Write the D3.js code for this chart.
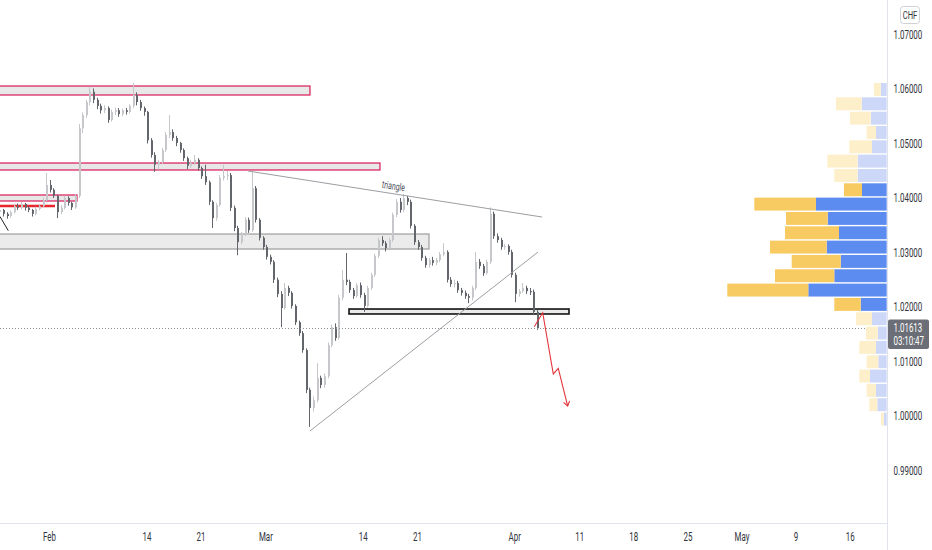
<!DOCTYPE html>
<html><head><meta charset="utf-8">
<script src="https://cdn.jsdelivr.net/npm/d3@7"></script>
<style>
html,body{margin:0;padding:0;background:#fff;}
svg{display:block;}
text{font-family:Roboto,"Liberation Sans",sans-serif;}
</style></head><body>
<svg id="c" width="932" height="550"></svg>
<script>
// ---------------- DATA ----------------
// 8-hour candles (3 per trading day), first candle on trading day index -5 (Jan 25, 2022); day 0 = Feb 1
const firstDay = -5, perDay = 3;
const firstOpen = 1.0372;
const closes = [
1.0374,1.0378,1.0371, 1.0367,1.0374,1.0385, 1.0382,1.0389,1.0382, 1.0378,1.0371,1.0380,
1.0385,1.0396,1.0424, 1.0415,1.0404,1.0374, 1.0382,1.0400,1.0391, 1.0383,1.0404,1.0528,
1.0552,1.0576,1.0595, 1.0580,1.0569,1.0561, 1.0565,1.0543,1.0558, 1.0561,1.0554,1.0561,
1.0558,1.0569,1.0589, 1.0576,1.0565,1.0558, 1.0506,1.0479,1.0461, 1.0466,1.0488,1.0516,
1.0521,1.0510,1.0501, 1.0488,1.0473,1.0459, 1.0464,1.0470,1.0455, 1.0440,1.0429,1.0393,
1.0363,1.0387,1.0437, 1.0440,1.0442,1.0382, 1.0345,1.0319,1.0334, 1.0360,1.0341,1.0418,
1.0360,1.0327,1.0310, 1.0292,1.0283,1.0250, 1.0224,1.0198,1.0235, 1.0226,1.0202,1.0172,
1.0152,1.0121,1.0048, 1.0015,1.0029,1.0070, 1.0057,1.0073,1.0130, 1.0163,1.0143,1.0217,
1.0250,1.0246,1.0231, 1.0220,1.0240,1.0222, 1.0202,1.0235,1.0259, 1.0294,1.0323,1.0317,
1.0308,1.0323,1.0369, 1.0393,1.0378,1.0400, 1.0393,1.0349,1.0319, 1.0310,1.0290,1.0277,
1.0286,1.0281,1.0286, 1.0297,1.0301,1.0250, 1.0242,1.0244,1.0231, 1.0226,1.0220,1.0217,
1.0235,1.0283,1.0275, 1.0262,1.0283,1.0371, 1.0330,1.0323,1.0310, 1.0312,1.0301,1.0259,
1.0224,1.0229,1.0235, 1.0229,1.0228,1.0191, 1.0161];
const highs = [
1.0380,1.0382,1.0380, 1.0374,1.0377,1.0389, 1.0390,1.0393,1.0391, 1.0385,1.0380,1.0384,
1.0389,1.0401,1.0446, 1.0433,1.0418,1.0406, 1.0387,1.0404,1.0403, 1.0393,1.0407,1.0536,
1.0557,1.0580,1.0604, 1.0601,1.0584,1.0573, 1.0570,1.0568,1.0562, 1.0566,1.0565,1.0564,
1.0565,1.0572,1.0611, 1.0594,1.0580,1.0568, 1.0560,1.0510,1.0484, 1.0470,1.0492,1.0521,
1.0552,1.0526,1.0514, 1.0503,1.0491,1.0476, 1.0470,1.0479,1.0473, 1.0458,1.0461,1.0432,
1.0396,1.0391,1.0442, 1.0461,1.0450,1.0446, 1.0386,1.0349,1.0338, 1.0365,1.0364,1.0448,
1.0422,1.0363,1.0330, 1.0314,1.0296,1.0286, 1.0254,1.0229,1.0244, 1.0239,1.0229,1.0205,
1.0175,1.0156,1.0124, 1.0052,1.0036,1.0097, 1.0074,1.0078,1.0135, 1.0168,1.0170,1.0222,
1.0268,1.0299,1.0250, 1.0235,1.0244,1.0245, 1.0226,1.0239,1.0263, 1.0298,1.0327,1.0330,
1.0321,1.0327,1.0373, 1.0398,1.0400,1.0407, 1.0404,1.0397,1.0352, 1.0323,1.0314,1.0294,
1.0290,1.0292,1.0290, 1.0301,1.0317,1.0304, 1.0255,1.0250,1.0248, 1.0235,1.0230,1.0224,
1.0239,1.0301,1.0288, 1.0279,1.0287,1.0383, 1.0375,1.0335,1.0327, 1.0316,1.0315,1.0305,
1.0263,1.0233,1.0244, 1.0239,1.0235,1.0232, 1.0195];
const lows = [
1.0368,1.0370,1.0366, 1.0362,1.0364,1.0372, 1.0378,1.0379,1.0377, 1.0374,1.0366,1.0368,
1.0377,1.0383,1.0394, 1.0410,1.0400,1.0363, 1.0370,1.0379,1.0386, 1.0378,1.0380,1.0400,
1.0519,1.0547,1.0570, 1.0574,1.0563,1.0555, 1.0556,1.0538,1.0540, 1.0552,1.0549,1.0550,
1.0553,1.0555,1.0565, 1.0570,1.0560,1.0551, 1.0500,1.0474,1.0448, 1.0452,1.0462,1.0484,
1.0510,1.0505,1.0495, 1.0483,1.0468,1.0453, 1.0455,1.0460,1.0450, 1.0435,1.0424,1.0387,
1.0345,1.0358,1.0384, 1.0432,1.0433,1.0376, 1.0339,1.0295,1.0315, 1.0330,1.0336,1.0338,
1.0355,1.0322,1.0305, 1.0287,1.0278,1.0244, 1.0218,1.0163,1.0195, 1.0220,1.0197,1.0167,
1.0147,1.0116,1.0042, 0.9980,1.0008,1.0025, 1.0051,1.0052,1.0069, 1.0126,1.0138,1.0140,
1.0212,1.0240,1.0226, 1.0215,1.0217,1.0217, 1.0191,1.0199,1.0231, 1.0255,1.0290,1.0312,
1.0302,1.0304,1.0319, 1.0365,1.0373,1.0374, 1.0387,1.0344,1.0314, 1.0305,1.0285,1.0272,
1.0272,1.0276,1.0276, 1.0282,1.0293,1.0245, 1.0237,1.0236,1.0226, 1.0221,1.0215,1.0207,
1.0212,1.0231,1.0270, 1.0257,1.0259,1.0279, 1.0325,1.0318,1.0305, 1.0305,1.0296,1.0254,
1.0209,1.0219,1.0226, 1.0224,1.0222,1.0186, 1.0158];

// Price axis ticks
const priceTicks = [0.99,1.00,1.01,1.02,1.03,1.04,1.05,1.06,1.07];
// Time axis (trading-day index, label)
const timeTickDays   = [0, 9, 14, 20, 29, 34, 43, 49, 54, 59, 64, 69, 74];
const timeTickLabels = ["Feb","14","21","Mar","14","21","Apr","11","18","25","May","9","16"];

// Drawn zones: [startDay, endDay, topPrice, bottomPrice, style]
const zoneStart  = [-6, -6, -6, -6, 27.82];
const zoneEnd    = [24.21, 30.68, 2.68, 35.21, 48.15];
const zoneTop    = [1.06055, 1.04642, 1.04055, 1.03339, 1.01963];
const zoneBottom = [1.05890, 1.04514, 1.03945, 1.03064, 1.01872];
const zoneStyle  = ["pink","pink","pink","grey","black"];
// Red horizontal level
const redLevel = {start:-6, end:0.65, price:1.03853};

// Trend lines: [day, price] points
const triangleUpper = [[18.48,1.04495],[45.66,1.03651]];
const triangleLower = [[24.21,0.99725],[45.29,1.03009]];
const smallBlackLine = [[-4.44,1.0366],[-3.67,1.0340]];
const forecastPath = [[44.94,1.01639],[45.72,1.01895],[46.70,1.00771],[47.16,1.00875],[48.03,1.00183]];
const triangleLabel = {day:31.93, price:1.0422, text:"triangle"};

// Current price / countdown
const lastPrice = 1.01613;
const countdown = "03:10:47";
const currency = "CHF";

// Volume profile, top row to bottom row (24 rows over visible high/low range)
const upVolume   = [6,25,16,10.7,14.7,29,29,24.7,70.7,59,47.7,60,46,52.4,78.4,26,14.7,9,10.7,8.4,16.7,10.7,9.4,3];
const downVolume = [6.7,25.7,20.7,9.3,22.7,30.4,23.4,18,61.7,41.7,54,56.7,49,59.3,81,26.4,16,11.7,16.7,11.6,10.7,9.3,8,2.7];
const valueAreaRows = [7, 15]; // inclusive

// ---------------- DRAW ----------------
const svg = d3.select("#c");
const W = 932, H = 550, plotR = 887, plotB = 523;
const SX = 0.66; // horizontal text compression seen in the reference

const x = d3.scaleLinear().domain([0, 74]).range([48, 848.7]);
const y = d3.scaleLinear().domain([0.99, 1.07]).range([470.5, 34.5]);

svg.append("rect").attr("width", W).attr("height", H).attr("fill", "#fff");

const defs = svg.append("defs");
defs.append("clipPath").attr("id", "plotclip").append("rect")
  .attr("x", 0).attr("y", 0).attr("width", plotR).attr("height", plotB);

const plot = svg.append("g").attr("clip-path", "url(#plotclip)");

// Zones
const zoneColors = {
  pink:  {fill:"rgba(200,200,200,0.42)", stroke:"#dc2a62", sw:1.3},
  grey:  {fill:"rgba(205,205,205,0.40)", stroke:"#a3a3a3", sw:1.3},
  black: {fill:"rgba(205,205,205,0.40)", stroke:"#111111", sw:1.6}
};
zoneStart.forEach((s, i) => {
  const st = zoneColors[zoneStyle[i]];
  plot.append("rect")
    .attr("x", x(s)).attr("y", y(zoneTop[i]))
    .attr("width", x(zoneEnd[i]) - x(s))
    .attr("height", y(zoneBottom[i]) - y(zoneTop[i]))
    .attr("fill", st.fill).attr("stroke", st.stroke).attr("stroke-width", st.sw);
});
plot.append("line")
  .attr("x1", x(redLevel.start)).attr("x2", x(redLevel.end))
  .attr("y1", y(redLevel.price)).attr("y2", y(redLevel.price))
  .attr("stroke", "#e8262b").attr("stroke-width", 2.4);

// Candles
const candles = closes.map((c, i) => {
  const day = firstDay + Math.floor(i / perDay);
  const t = day + ((i % perDay) + 0.5) / perDay;
  const o = i === 0 ? firstOpen : closes[i - 1];
  return {t, o, h: highs[i], l: lows[i], c};
});
const upCol = "#c6c7ca", downCol = "#63666d";
const bodyW = 2;
const cg = plot.append("g");
candles.forEach(d => {
  const cx = Math.round(x(d.t)) + 0.5;
  const col = d.c >= d.o ? upCol : downCol;
  cg.append("line").attr("x1", cx).attr("x2", cx)
    .attr("y1", y(d.h)).attr("y2", y(d.l))
    .attr("stroke", col).attr("stroke-width", 1);
  const top = y(Math.max(d.o, d.c)), bot = y(Math.min(d.o, d.c));
  cg.append("rect").attr("x", cx - 0.5).attr("y", top)
    .attr("width", bodyW).attr("height", Math.max(1, bot - top))
    .attr("fill", col);
});

// Lines
const lineGen = d3.line().x(d => x(d[0])).y(d => y(d[1]));
[triangleUpper, triangleLower].forEach(pts => {
  plot.append("path").attr("d", lineGen(pts))
    .attr("fill", "none").attr("stroke", "#9c9ea3").attr("stroke-width", 1);
});
plot.append("path").attr("d", lineGen(smallBlackLine))
  .attr("fill", "none").attr("stroke", "#222").attr("stroke-width", 1);

// Forecast arrow
plot.append("path").attr("d", lineGen(forecastPath))
  .attr("fill", "none").attr("stroke", "#e3343a").attr("stroke-width", 1.1)
  .attr("stroke-linejoin", "miter");
{
  const n = forecastPath.length;
  const p1 = forecastPath[n - 2], p2 = forecastPath[n - 1];
  const ax = x(p2[0]), ay = y(p2[1]);
  const ang = Math.atan2(ay - y(p1[1]), ax - x(p1[0]));
  const L = 5.5, spread = 0.6;
  const pts = [
    [ax - L * Math.cos(ang - spread), ay - L * Math.sin(ang - spread)],
    [ax, ay],
    [ax - L * Math.cos(ang + spread), ay - L * Math.sin(ang + spread)]
  ];
  plot.append("path").attr("d", d3.line()(pts))
    .attr("fill", "none").attr("stroke", "#e3343a").attr("stroke-width", 1.1);
}

// Triangle label
{
  const a = triangleUpper[0], b = triangleUpper[1];
  const ang = Math.atan2(y(b[1]) - y(a[1]), x(b[0]) - x(a[0])) * 180 / Math.PI;
  plot.append("text")
    .attr("transform", `translate(${x(triangleLabel.day)},${y(triangleLabel.price)}) rotate(${ang}) scale(${SX},1)`)
    .attr("text-anchor", "middle").attr("dy", "0.35em")
    .attr("font-size", 10.5).attr("fill", "#50535c")
    .text(triangleLabel.text);
}

// Current price dotted line
plot.append("line")
  .attr("x1", 0).attr("x2", plotR)
  .attr("y1", Math.round(y(lastPrice)) + 0.5).attr("y2", Math.round(y(lastPrice)) + 0.5)
  .attr("stroke", "#8d8f95").attr("stroke-width", 1).attr("stroke-dasharray", "1,2");

// Volume profile
{
  const pHi = d3.max(highs), pLo = d3.min(lows);
  const nRows = upVolume.length;
  const rowH = (y(pLo) - y(pHi)) / nRows;
  const maxTot = d3.max(upVolume.map((u, i) => u + downVolume[i]));
  const vx = d3.scaleLinear().domain([0, maxTot]).range([0, maxTot]);
  const vg = svg.append("g");
  const right = plotR - 0.3;
  upVolume.forEach((u, i) => {
    const inVA = i >= valueAreaRows[0] && i <= valueAreaRows[1];
    const top = y(pHi) + i * rowH;
    const hh = rowH - 1.4;
    const wu = vx(u), wd = vx(downVolume[i]);
    vg.append("rect").attr("x", right - wu).attr("y", top).attr("width", wu).attr("height", hh)
      .attr("fill", inVA ? "#5d8cf0" : "#cdd8f8");
    vg.append("rect").attr("x", right - wu - wd).attr("y", top).attr("width", wd).attr("height", hh)
      .attr("fill", inVA ? "#f8ca62" : "#fdefca");
  });
}

// Axes lines
svg.append("line").attr("x1", plotR + 0.5).attr("x2", plotR + 0.5).attr("y1", 0).attr("y2", H)
  .attr("stroke", "#e0e3eb").attr("stroke-width", 1);
svg.append("line").attr("x1", 0).attr("x2", plotR).attr("y1", plotB + 0.5).attr("y2", plotB + 0.5)
  .attr("stroke", "#e0e3eb").attr("stroke-width", 1);

// Price axis labels
const fmt = d3.format(".5f");
const pa = svg.append("g");
priceTicks.forEach(v => {
  pa.append("text")
    .attr("transform", `translate(893.5,${y(v)}) scale(${SX},1)`)
    .attr("dy", "0.36em").attr("font-size", 12).attr("fill", "#30333b")
    .text(fmt(v));
});

// Time axis labels
const ta = svg.append("g");
timeTickDays.forEach((d, i) => {
  ta.append("text")
    .attr("transform", `translate(${x(d) + 1.5},536.5) scale(${SX},1)`)
    .attr("text-anchor", "middle").attr("dy", "0.36em")
    .attr("font-size", 12).attr("fill", "#30333b")
    .text(timeTickLabels[i]);
});

// Currency box
svg.append("rect").attr("x", 900.5).attr("y", 6.5).attr("width", 19).attr("height", 17).attr("rx", 3)
  .attr("fill", "#fff").attr("stroke", "#cfd1d6");
svg.append("text").attr("transform", `translate(910,15) scale(${SX},1)`)
  .attr("text-anchor", "middle").attr("dy", "0.36em").attr("font-size", 11.5).attr("fill", "#30333b")
  .text(currency);

// Last price tag
{
  const yp = y(lastPrice);
  svg.append("rect").attr("x", 888).attr("y", yp - 8.5).attr("width", 41).attr("height", 29.5).attr("rx", 2)
    .attr("fill", "#6b6e76");
  svg.append("text").attr("transform", `translate(893.5,${yp}) scale(${SX},1)`)
    .attr("dy", "0.36em").attr("font-size", 12).attr("fill", "#fff").text(fmt(lastPrice));
  svg.append("text").attr("transform", `translate(893.5,${yp + 13}) scale(${SX},1)`)
    .attr("dy", "0.36em").attr("font-size", 12).attr("fill", "#fff").text(countdown);
}
</script></body></html>
